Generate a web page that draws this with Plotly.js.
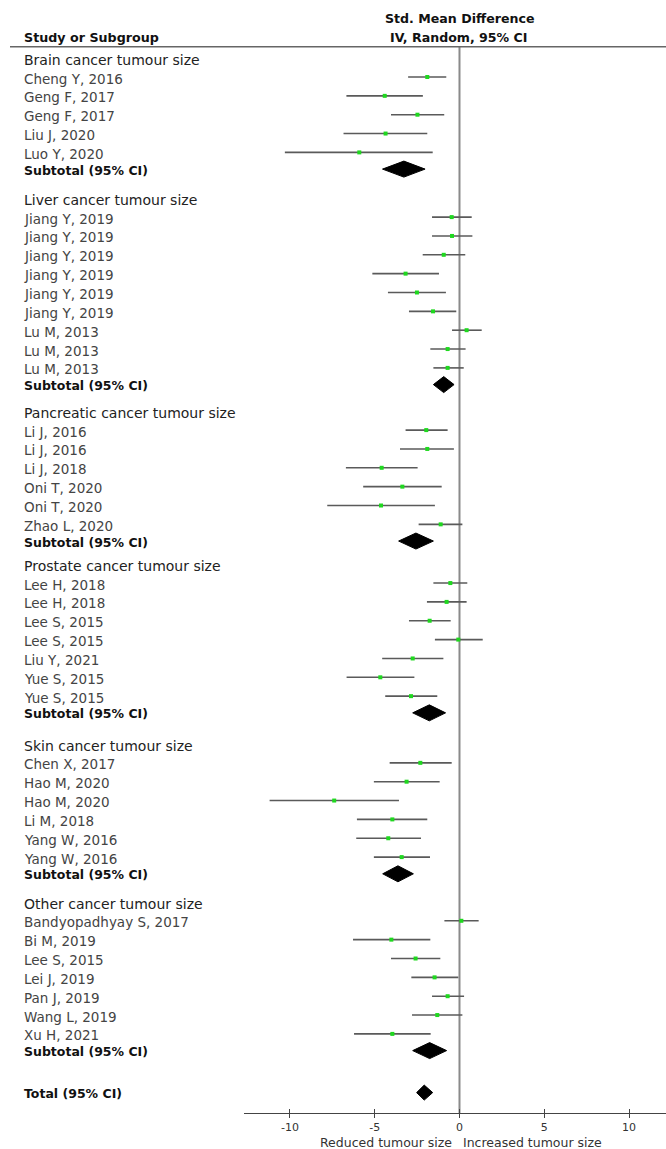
<!DOCTYPE html>
<html><head><meta charset="utf-8">
<script src="https://cdn.plot.ly/plotly-3.0.1.min.js"></script>
<style>html,body{margin:0;padding:0;background:#fff}#chart{width:666px;height:1149px}</style>
</head><body><div id="chart"></div>
<script>
// ---------- data ----------
const groupNames = ["Brain cancer tumour size","Liver cancer tumour size","Pancreatic cancer tumour size",
  "Prostate cancer tumour size","Skin cancer tumour size","Other cancer tumour size"];

const brainStudies = ["Cheng Y, 2016","Geng F, 2017","Geng F, 2017","Liu J, 2020","Luo Y, 2020"];
const brainEst = [-1.90,-4.41,-2.48,-4.36,-5.91];
const brainLo  = [-3.03,-6.67,-4.04,-6.84,-10.30];
const brainHi  = [-0.78,-2.16,-0.90,-1.90,-1.58];

const liverStudies = ["Jiang Y, 2019","Jiang Y, 2019","Jiang Y, 2019","Jiang Y, 2019","Jiang Y, 2019","Jiang Y, 2019","Lu M, 2013","Lu M, 2013","Lu M, 2013"];
const liverEst = [-0.46,-0.44,-0.93,-3.18,-2.51,-1.56,0.42,-0.70,-0.70];
const liverLo  = [-1.62,-1.62,-2.17,-5.14,-4.22,-2.98,-0.44,-1.72,-1.54];
const liverHi  = [0.72,0.76,0.34,-1.21,-0.80,-0.19,1.31,0.36,0.25];

const pancStudies = ["Li J, 2016","Li J, 2016","Li J, 2018","Oni T, 2020","Oni T, 2020","Zhao L, 2020"];
const pancEst = [-1.96,-1.90,-4.59,-3.37,-4.63,-1.11];
const pancLo  = [-3.18,-3.51,-6.70,-5.68,-7.80,-2.41];
const pancHi  = [-0.70,-0.33,-2.47,-1.05,-1.45,0.17];

const prosStudies = ["Lee H, 2018","Lee H, 2018","Lee S, 2015","Lee S, 2015","Liu Y, 2021","Yue S, 2015","Yue S, 2015"];
const prosEst = [-0.54,-0.76,-1.76,-0.07,-2.76,-4.67,-2.86];
const prosLo  = [-1.54,-1.92,-2.98,-1.45,-4.56,-6.66,-4.38];
const prosHi  = [0.46,0.42,-0.52,1.37,-0.95,-2.66,-1.31];

const skinStudies = ["Chen X, 2017","Hao M, 2020","Hao M, 2020","Li M, 2018","Yang W, 2016","Yang W, 2016"];
const skinEst = [-2.31,-3.12,-7.39,-3.96,-4.20,-3.41];
const skinLo  = [-4.12,-5.05,-11.20,-6.05,-6.09,-5.05];
const skinHi  = [-0.46,-1.17,-3.57,-1.90,-2.27,-1.74];

const otherStudies = ["Bandyopadhyay S, 2017","Bi M, 2019","Lee S, 2015","Lei J, 2019","Pan J, 2019","Wang L, 2019","Xu H, 2021"];
const otherEst = [0.11,-4.02,-2.59,-1.47,-0.70,-1.31,-3.96];
const otherLo  = [-0.89,-6.28,-4.04,-2.84,-1.62,-2.80,-6.22];
const otherHi  = [1.13,-1.72,-1.13,-0.07,0.27,0.17,-1.70];

const subtotalEst = [-3.28,-0.93,-2.57,-1.78,-3.63,-1.76];
const subtotalLo  = [-4.54,-1.54,-3.59,-2.76,-4.53,-2.76];
const subtotalHi  = [-2.03,-0.32,-1.54,-0.82,-2.72,-0.76];

const totalEst = [-2.08];
const totalLo  = [-2.53];
const totalHi  = [-1.58];

const tickVals = [-10,-5,0,5,10];
const tickText = ["-10","-5","0","5","10"];

// ---------- layout constants ----------
const FONT = "DejaVu Sans";
const groups = [
  [brainStudies, brainEst, brainLo, brainHi],
  [liverStudies, liverEst, liverLo, liverHi],
  [pancStudies, pancEst, pancLo, pancHi],
  [prosStudies, prosEst, prosLo, prosHi],
  [skinStudies, skinEst, skinLo, skinHi],
  [otherStudies, otherEst, otherLo, otherHi]
];
const firstHeaderY = 60, headToStudy = 18.5, studyStep = 18.85, studyToSub = 16.2;
const groupGaps = [30, 27.5, 24, 32, 29];
const totalGap = 42;
const markOffset = -1.5;
const AXIS_Y = 1113;

const annotations = [];
const traces = [];
const sx = [], sy = [], sPlus = [], sMinus = [];

function label(text, y, size, color) {
  annotations.push({text, xref:'paper', x:22/666, xanchor:'left', yref:'y', y, yanchor:'middle',
    showarrow:false, font:{family:FONT, size, color}});
}
function diamond(lo, est, hi, y, h) {
  traces.push({type:'scatter', mode:'lines', x:[lo, est, hi, est, lo], y:[y, y-h, y, y+h, y],
    fill:'toself', fillcolor:'#000', line:{color:'#000', width:1}, hoverinfo:'skip', xaxis:'x', yaxis:'y'});
}

let y = firstHeaderY;
let lastSub = 0;
groups.forEach((g, gi) => {
  const [names, est, lo, hi] = g;
  label(groupNames[gi], y, 14, '#222');
  let sy0 = y + headToStudy;
  names.forEach((n, i) => {
    const yy = sy0 + i * studyStep;
    label(n, yy, 13.5, '#444');
    sx.push(est[i]); sy.push(yy + markOffset);
    sPlus.push(hi[i] - est[i]); sMinus.push(est[i] - lo[i]);
  });
  const subY = sy0 + (names.length - 1) * studyStep + studyToSub;
  label('<b>Subtotal (95% CI)</b>', subY, 12.5, '#111');
  diamond(subtotalLo[gi], subtotalEst[gi], subtotalHi[gi], subY + markOffset + 0.5, 8);
  lastSub = subY;
  if (gi < groupGaps.length) y = subY + groupGaps[gi];
});
const totalY = lastSub + totalGap;
label('<b>Total (95% CI)</b>', totalY, 12.5, '#111');
diamond(totalLo[0], totalEst[0], totalHi[0], totalY + markOffset + 0.5, 7.5);

traces.push({type:'scatter', mode:'markers', x:sx, y:sy,
  marker:{symbol:'square', size:4, color:'#1fd81f', line:{width:0}},
  error_x:{type:'data', symmetric:false, array:sPlus, arrayminus:sMinus, width:0, thickness:1.6, color:'#5a5a5a'},
  hoverinfo:'skip', xaxis:'x', yaxis:'y'});
traces.push({type:'scatter', mode:'markers', x:[0], y:[AXIS_Y], marker:{opacity:0}, xaxis:'x2', yaxis:'y', hoverinfo:'skip'});

// headers
annotations.push({text:'<b>Study or Subgroup</b>', xref:'paper', x:22/666, xanchor:'left', yref:'y', y:37, yanchor:'middle',
  showarrow:false, font:{family:FONT, size:12.7, color:'#111'}});
annotations.push({text:'<b>Std. Mean Difference</b>', xref:'x', x:0, xanchor:'center', yref:'y', y:18, yanchor:'middle',
  showarrow:false, font:{family:FONT, size:12.6, color:'#111'}});
annotations.push({text:'<b>IV, Random, 95% CI</b>', xref:'x', x:0, xanchor:'center', yref:'y', y:37, yanchor:'middle',
  showarrow:false, font:{family:FONT, size:12.6, color:'#111'}});
annotations.push({text:'Reduced tumour size', xref:'x', x:-0.3, xanchor:'right', yref:'paper', y:-29/AXIS_Y, yanchor:'middle',
  showarrow:false, font:{family:FONT, size:12.5, color:'#333'}});
annotations.push({text:'Increased tumour size', xref:'x', x:0.1, xanchor:'left', yref:'paper', y:-29/AXIS_Y, yanchor:'middle',
  showarrow:false, font:{family:FONT, size:12.5, color:'#333'}});

const xr = [-12.71, 12.18];
const layout = {
  width:666, height:1149, margin:{l:0, r:0, t:0, b:1149-AXIS_Y, pad:0},
  paper_bgcolor:'#fff', plot_bgcolor:'#fff', showlegend:false, hovermode:false,
  xaxis:{domain:[244/666, 1], range:xr, showgrid:false, zeroline:false, showline:true, linecolor:'#444', linewidth:1,
    ticks:'outside', ticklen:4, tickwidth:1, tickcolor:'#444', tickvals:tickVals, ticktext:tickText,
    tickfont:{family:FONT, size:11, color:'#333'}, automargin:false, fixedrange:true},
  xaxis2:{overlaying:'x', anchor:'y', side:'bottom', domain:[244/666,1], range:xr, showgrid:false, zeroline:false, showline:false,
    ticks:'inside', ticklen:4, tickwidth:1, tickcolor:'#444', tickvals:tickVals, showticklabels:false, automargin:false, fixedrange:true},
  yaxis:{domain:[0,1], range:[AXIS_Y, 0], visible:false, fixedrange:true},
  shapes:[
    {type:'line', xref:'x', x0:0, x1:0, yref:'y', y0:46.7, y1:AXIS_Y, line:{color:'#8a8a8a', width:2}, layer:'below'},
    {type:'line', xref:'paper', x0:10/666, x1:1, yref:'y', y0:46.7, y1:46.7, line:{color:'#666', width:1.5}}
  ],
  annotations
};
Plotly.newPlot('chart', traces, layout, {staticPlot:true, displayModeBar:false});
</script></body></html>
